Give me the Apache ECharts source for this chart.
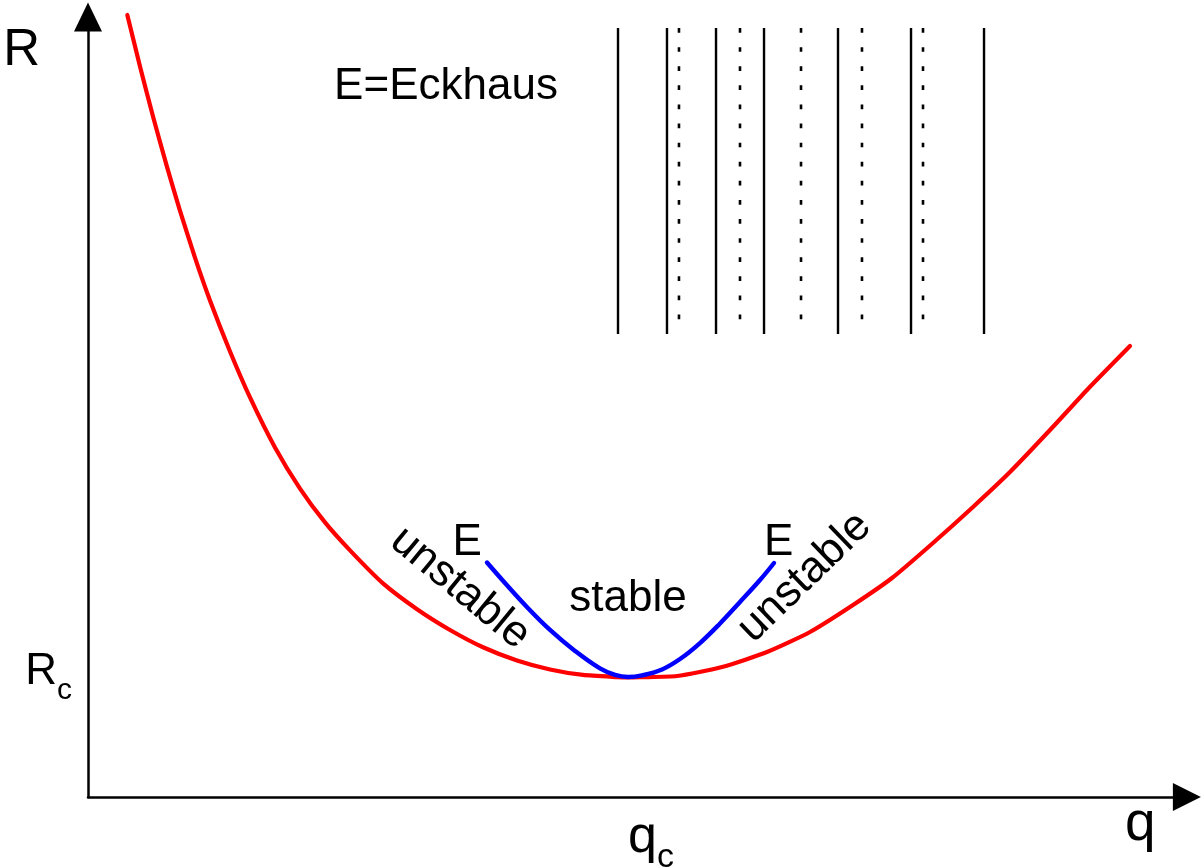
<!DOCTYPE html>
<html>
<head>
<meta charset="utf-8">
<script src="https://cdn.jsdelivr.net/npm/echarts@6/dist/echarts.min.js"></script>
<style>
  html, body { margin: 0; padding: 0; background: #ffffff; }
  #chart { width: 1203px; height: 868px; }
</style>
</head>
<body>
<div id="chart"></div>
<script>
// ---- data (q in units of q_c, R in arbitrary units with R_c = 1) ----
const neutralCurve = [ // red: neutral stability curve
  [0.0728, 6.517], [0.0963, 6.088], [0.1204, 5.671], [0.1463, 5.251], [0.1704, 4.885],
  [0.1981, 4.495], [0.2259, 4.138], [0.2630, 3.713], [0.3000, 3.330], [0.3463, 2.913],
  [0.3926, 2.570], [0.4389, 2.288], [0.4852, 2.055], [0.5463, 1.780], [0.6093, 1.565],
  [0.6704, 1.392], [0.7315, 1.248], [0.7944, 1.138], [0.8556, 1.063], [0.9167, 1.017],
  [0.9796, 0.999], [1.0000, 0.996], [1.0222, 0.998], [1.0907, 1.008], [1.1741, 1.083],
  [1.2574, 1.208], [1.3370, 1.375], [1.4167, 1.600], [1.4889, 1.825], [1.5648, 2.117],
  [1.6389, 2.417], [1.7074, 2.708], [1.7815, 3.058], [1.8500, 3.392], [1.9296, 3.758]
];
const eckhausCurve = [ // blue: Eckhaus stability boundary
  [0.7389, 1.954], [0.7722, 1.783], [0.8093, 1.600], [0.8556, 1.392], [0.9019, 1.217],
  [0.9481, 1.071], [0.9759, 1.017], [1.0000, 1.000], [1.0259, 1.013], [1.0630, 1.063],
  [1.0963, 1.150], [1.1333, 1.283], [1.1704, 1.446], [1.2074, 1.625], [1.2444, 1.808],
  [1.2704, 1.950]
];
// pattern sketch: solid and dotted roll positions
const solidRolls = [0.9815, 1.0722, 1.1630, 1.2519, 1.3889, 1.5241, 1.6593];
const dottedRolls = [1.0944, 1.2074, 1.3204, 1.4333, 1.5463];
const solidRange = [6.408, 3.858];
const dottedRange = [6.408, 3.975];
// annotations: [q, R, text, rotation(deg)]
const annotations = [
  [0.663, 5.915, 'E=Eckhaus', 0],
  [1.000, 1.655, 'stable', 0],
  [0.702, 2.120, 'E', 0],
  [1.279, 2.120, 'E', 0],
  [0.689, 1.742, 'unstable', -39.5],
  [1.327, 1.831, 'unstable', 44]
];
const qMax = 2.035, RMax = 6.5;
const qcTick = 1, RcTick = 1;

const FONT = "'Liberation Sans', Arial, Helvetica, sans-serif";

const series = [];
solidRolls.forEach((q, i) => {
  series.push({
    name: 'solid' + i, type: 'line', silent: true, showSymbol: false, symbol: 'none',
    data: [[q, solidRange[0]], [q, solidRange[1]]],
    lineStyle: { color: '#000', width: 2.4, type: 'solid' }, z: 2
  });
});
dottedRolls.forEach((q, i) => {
  series.push({
    name: 'dotted' + i, type: 'line', silent: true, showSymbol: false, symbol: 'none',
    data: [[q, dottedRange[0]], [q, dottedRange[1]]],
    lineStyle: { color: '#000', width: 2.6, type: [4.7, 14.4] }, z: 2
  });
});
series.push({
  name: 'neutral', type: 'line', data: neutralCurve, showSymbol: false, symbol: 'none',
  smooth: 0.2, clip: false, lineStyle: { color: '#ff0000', width: 4.2, cap: 'round', join: 'round' }, z: 3
});
series.push({
  name: 'eckhaus', type: 'line', data: eckhausCurve, showSymbol: false, symbol: 'none',
  smooth: 0.4, clip: false, lineStyle: { color: '#0000ff', width: 4.4, cap: 'round', join: 'round' }, z: 4
});
const annLabel = { show: true, position: 'inside', align: 'center', verticalAlign: 'middle',
  color: '#000000', fontSize: 44, fontFamily: FONT, textBorderWidth: 0, opacity: 1 };
series.push({
  name: 'labels', type: 'scatter', symbolSize: 0, silent: true, clip: false, z: 5,
  itemStyle: { color: '#000000', opacity: 1 },
  data: annotations.map(a => ({
    value: [a[0], a[1]],
    label: Object.assign({}, annLabel, { rotate: a[3], formatter: a[2] })
  })),
  label: annLabel,
  emphasis: { disabled: true }
});

const chart = echarts.init(document.getElementById('chart'), null, { renderer: 'canvas' });
chart.setOption({
  animation: false,
  backgroundColor: '#ffffff',
  grid: { left: 88, top: 17, right: 16.1, bottom: 71, containLabel: false, outerBoundsMode: 'none' },
  xAxis: {
    type: 'value', min: 0, max: qMax,
    name: 'q', nameLocation: 'end', nameGap: -62,
    nameTextStyle: { color: '#000', fontSize: 55, fontFamily: FONT, align: 'left', verticalAlign: 'top' },
    axisLine: { show: true, onZero: false, symbol: ['none', 'triangle'], symbolSize: [28, 28],
      lineStyle: { color: '#000', width: 2.5 } },
    axisTick: { show: false },
    splitLine: { show: false },
    axisLabel: {
      show: true, customValues: [qcTick], align: 'left', margin: 4,
      formatter: () => 'q{s|c}',
      color: '#000', fontSize: 52, fontFamily: FONT,
      rich: { s: { fontSize: 34, fontFamily: FONT, color: '#000', padding: [40, 0, 0, 0] } }
    }
  },
  yAxis: {
    type: 'value', min: 0, max: RMax,
    name: 'R', nameLocation: 'end', nameGap: 0,
    nameTextStyle: { color: '#000', fontSize: 51, fontFamily: FONT, align: 'right', verticalAlign: 'top', padding: [8, 48, 0, 0] },
    axisLine: { show: true, onZero: false, symbol: ['none', 'triangle'], symbolSize: [28, 29],
      lineStyle: { color: '#000', width: 2.5 } },
    axisTick: { show: false },
    splitLine: { show: false },
    axisLabel: {
      show: true, customValues: [RcTick], margin: 16, padding: [0, 0, 10, 0],
      formatter: () => 'R{s|c}',
      color: '#000', fontSize: 44, fontFamily: FONT,
      rich: { s: { fontSize: 30, fontFamily: FONT, color: '#000', padding: [38, 0, 0, 0] } }
    }
  },
  series: series
});
</script>
</body>
</html>
